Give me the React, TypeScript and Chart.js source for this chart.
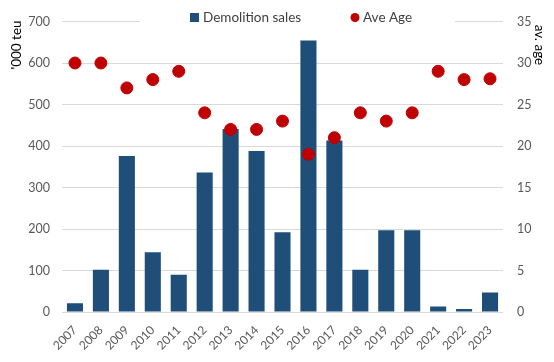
import React, { useEffect, useRef } from "react";
import { Chart, registerables } from "chart.js";

Chart.register(...registerables);

const years = ["2007","2008","2009","2010","2011","2012","2013","2014","2015","2016","2017","2018","2019","2020","2021","2022","2023"];
const demolitionSales = [21, 102, 376, 144, 90, 336, 441, 388, 192, 654, 413, 102, 197, 197, 13, 7, 47];
const aveAge = [30, 30, 27, 28, 29, 24, 22, 22, 23, 19, 21, 24, 23, 24, 29, 28, 28.1];

const BAR_COLOR = "#1F4E79";
const DOT_COLOR = "#C00000";
const FONT = "Lato";
const TEXT_COLOR = "#595959";

const legendPlugin = {
  id: "customLegend",
  afterDraw(chart: any) {
    const ctx = chart.ctx;
    ctx.save();
    ctx.fillStyle = "#ffffff";
    ctx.fillRect(140, 8, 315, 20);
    ctx.fillStyle = BAR_COLOR;
    ctx.fillRect(190, 13, 9, 9);
    ctx.fillStyle = DOT_COLOR;
    ctx.beginPath();
    ctx.arc(355, 17.5, 4.5, 0, Math.PI * 2);
    ctx.fill();
    ctx.fillStyle = "#404040";
    ctx.font = `13.5px ${FONT}`;
    ctx.textBaseline = "middle";
    ctx.textAlign = "left";
    ctx.fillText("Demolition sales", 203, 18);
    ctx.fillText("Ave Age", 363, 18);

    // axis titles
    ctx.fillStyle = "#000";
    ctx.font = `13.5px ${FONT}`;
    ctx.textAlign = "center";
    ctx.textBaseline = "middle";
    ctx.save();
    ctx.translate(17, 45);
    ctx.rotate(-Math.PI / 2);
    ctx.fillText("'000 teu", 0, 0);
    ctx.restore();
    ctx.save();
    ctx.translate(539, 45);
    ctx.rotate(Math.PI / 2);
    ctx.fillText("av. age", 0, 0);
    ctx.restore();
    ctx.restore();
  },
};

export default function App() {
  const ref = useRef<HTMLCanvasElement>(null);
  useEffect(() => {
    document.body.style.margin = "0";
    const chart = new Chart(ref.current!, {
      type: "bar",
      data: {
        labels: years,
        datasets: [
          {
            type: "line",
            label: "Ave Age",
            data: aveAge,
            yAxisID: "y1",
            showLine: false,
            pointRadius: 6,
            pointHoverRadius: 6,
            pointBackgroundColor: DOT_COLOR,
            pointBorderColor: DOT_COLOR,
            backgroundColor: DOT_COLOR,
            borderColor: DOT_COLOR,
            order: 0,
          } as any,
          {
            type: "bar",
            label: "Demolition sales",
            data: demolitionSales,
            yAxisID: "y",
            backgroundColor: BAR_COLOR,
            categoryPercentage: 1,
            barPercentage: 0.62,
            order: 1,
          },
        ],
      },
      options: {
        animation: false,
        responsive: false,
        layout: { padding: { top: 18, left: 0, right: 0, bottom: 0 } },
        plugins: { legend: { display: false }, tooltip: { enabled: false } },
        scales: {
          x: {
            grid: { display: false },
            border: { display: false },
            ticks: {
              color: TEXT_COLOR,
              font: { family: FONT, size: 12 },
              maxRotation: 45,
              minRotation: 45,
              padding: 3,
            },
            afterFit(scale: any) { scale.height = 50; },
          },
          y: {
            position: "left",
            min: 0,
            max: 700,
            ticks: { stepSize: 100, color: TEXT_COLOR, font: { family: FONT, size: 12.5 }, padding: 12 },
            grid: { color: "#d9d9d9", drawTicks: false },
            border: { display: false },
            title: { display: false },
            afterFit(scale: any) { scale.width = 62; },
          },
          y1: {
            position: "right",
            min: 0,
            max: 35,
            ticks: { stepSize: 5, color: TEXT_COLOR, font: { family: FONT, size: 12.5 }, padding: 14 },
            grid: { display: false, drawTicks: false },
            border: { display: false },
            title: { display: false },
            afterFit(scale: any) { scale.width = 51; },
          },
        },
      },
      plugins: [legendPlugin],
    });
    return () => chart.destroy();
  }, []);
  return (
    <div style={{ width: 554, height: 362 }}>
      <canvas ref={ref} width={554} height={362} style={{ display: "block" }} />
    </div>
  );
}
